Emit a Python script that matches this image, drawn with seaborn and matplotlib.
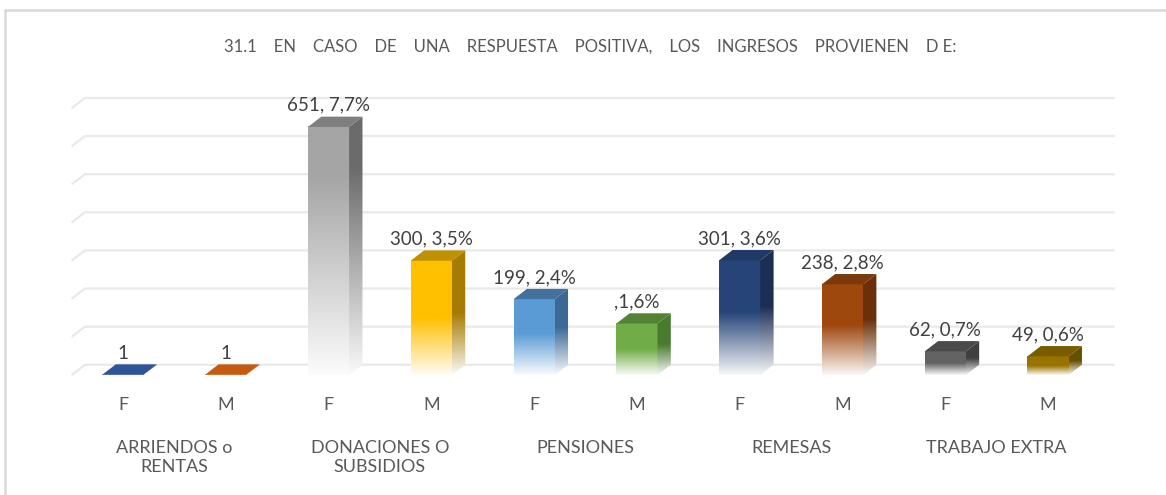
import numpy as np
import pandas as pd
import seaborn as sns
from matplotlib import pyplot as plt
from matplotlib.patches import Polygon
from matplotlib.lines import Line2D
from matplotlib.colors import to_rgb

# datos del grafico
groups = ['ARRIENDOS o\nRENTAS', 'DONACIONES O\nSUBSIDIOS', 'PENSIONES', 'REMESAS', 'TRABAJO EXTRA']
sexes = ['F', 'M']
values = [1, 1, 651, 300, 199, 135, 301, 238, 62, 49]
labels = ['1', '1', '651, 7,7%', '300, 3,5%', '199, 2,4%', ',1,6%',
          '301, 3,6%', '238, 2,8%', '62, 0,7%', '49, 0,6%']
title = '31.1    EN    CASO    DE    UNA    RESPUESTA    POSITIVA,    LOS    INGRESOS    PROVIENEN    D E:'

# colores (frente, lateral, tapa)
front_colors = ['#4472C4', '#ED7D31', '#A5A5A5', '#FFC000', '#5B9BD5',
                '#70AD47', '#264478', '#9E480E', '#636363', '#997300']
side_colors = ['#2F5597', '#A9531A', '#6B6B6B', '#A67C00', '#3C6996',
               '#4A7A2E', '#1B2F55', '#6B300A', '#404040', '#665000']
top_colors = ['#2F5597', '#C55A11', '#7F7F7F', '#BF9000', '#41719C',
              '#548235', '#203A66', '#7A3A0C', '#4A4A4A', '#7A5C00']
fade = [0.5, 0.5, 0.8, 0.5, 0.55, 0.5, 0.55, 0.55, 0.5, 0.5]

DX, DY = 0.13, 27


def gradient(color, frac, n=256):
    c = np.array(to_rgb(color))
    t = np.linspace(0, 1, n)
    mix = np.clip((t - (1 - frac)) / frac, 0, 1) * 0.96
    rgb = c[None, :] * (1 - mix[:, None]) + mix[:, None]
    return rgb[:, None, :]


sns.set_style('white')
plt.rcParams['font.family'] = ['Lato', 'DejaVu Sans']

df = pd.DataFrame({
    'bar': [g + '|' + s for g in groups for s in sexes],
    'value': values,
})

fig = plt.figure(figsize=(11.66, 4.95), dpi=100)
ax = fig.add_axes([0.0614, 0.2424, 0.8815, 0.5851])
sns.barplot(data=df, x='bar', y='value', hue='bar', palette=front_colors,
            width=0.4, legend=False, errorbar=None, ax=ax)

# lineas de cuadricula en el plano del fondo
for v in range(0, 701, 100):
    ax.plot([-0.5, -0.5 + DX, 9.65], [v, v + DY, v + DY], color='#e9e9e9',
            lw=1.6, zorder=1, clip_on=False, solid_capstyle='butt')

for i, p in enumerate(ax.patches):
    x0, w, h = p.get_x(), p.get_width(), p.get_height()
    p.set_visible(False)
    ax.imshow(gradient(front_colors[i], fade[i]), extent=[x0, x0 + w, 0, h],
              aspect='auto', zorder=4, interpolation='bilinear')
    side = Polygon([(x0 + w, 0), (x0 + w + DX, DY), (x0 + w + DX, h + DY), (x0 + w, h)],
                   closed=True, facecolor='none', edgecolor='none')
    ax.add_patch(side)
    img = ax.imshow(gradient(side_colors[i], fade[i]), extent=[x0 + w, x0 + w + DX, 0, h + DY],
                    aspect='auto', zorder=4, interpolation='bilinear')
    img.set_clip_path(side)
    ax.add_patch(Polygon([(x0, h), (x0 + DX, h + DY), (x0 + w + DX, h + DY), (x0 + w, h)],
                         closed=True, facecolor=top_colors[i], edgecolor='none', zorder=5))
    ax.annotate(labels[i], xy=(x0 + w / 2, h + DY), xytext=(0, 2), textcoords='offset points',
                ha='center', va='bottom', fontsize=13.5, color='#404040', zorder=6)

ax.set_xlim(-0.5, 9.5)
ax.set_ylim(0, 760)
ax.set_xticks(range(len(values)))
ax.set_xticklabels([s for g in groups for s in sexes], fontsize=13, color='#595959')
ax.tick_params(axis='x', length=0, pad=16)
ax.set_yticks([])
ax.set_xlabel('')
ax.set_ylabel('')
sns.despine(ax=ax, left=True, bottom=True)

for k, g in enumerate(groups):
    ax.annotate(g, xy=(2 * k + 0.5, 0), xycoords=('data', 'axes fraction'),
                xytext=(0, -47), textcoords='offset points', ha='center', va='top',
                fontsize=13, color='#595959', linespacing=1.2)

fig.text(590 / 1166, 1 - 47 / 495, title, ha='center', va='center',
         fontsize=12, color='#595959')

# marco del grafico
fig.add_artist(Line2D([5 / 1166, 5 / 1166], [0, 1 - 10 / 495], color='#d9d9d9', lw=1.8))
fig.add_artist(Line2D([5 / 1166, 1], [1 - 10 / 495, 1 - 10 / 495], color='#d9d9d9', lw=1.8))

plt.savefig('out.png', dpi=100, facecolor='white')
